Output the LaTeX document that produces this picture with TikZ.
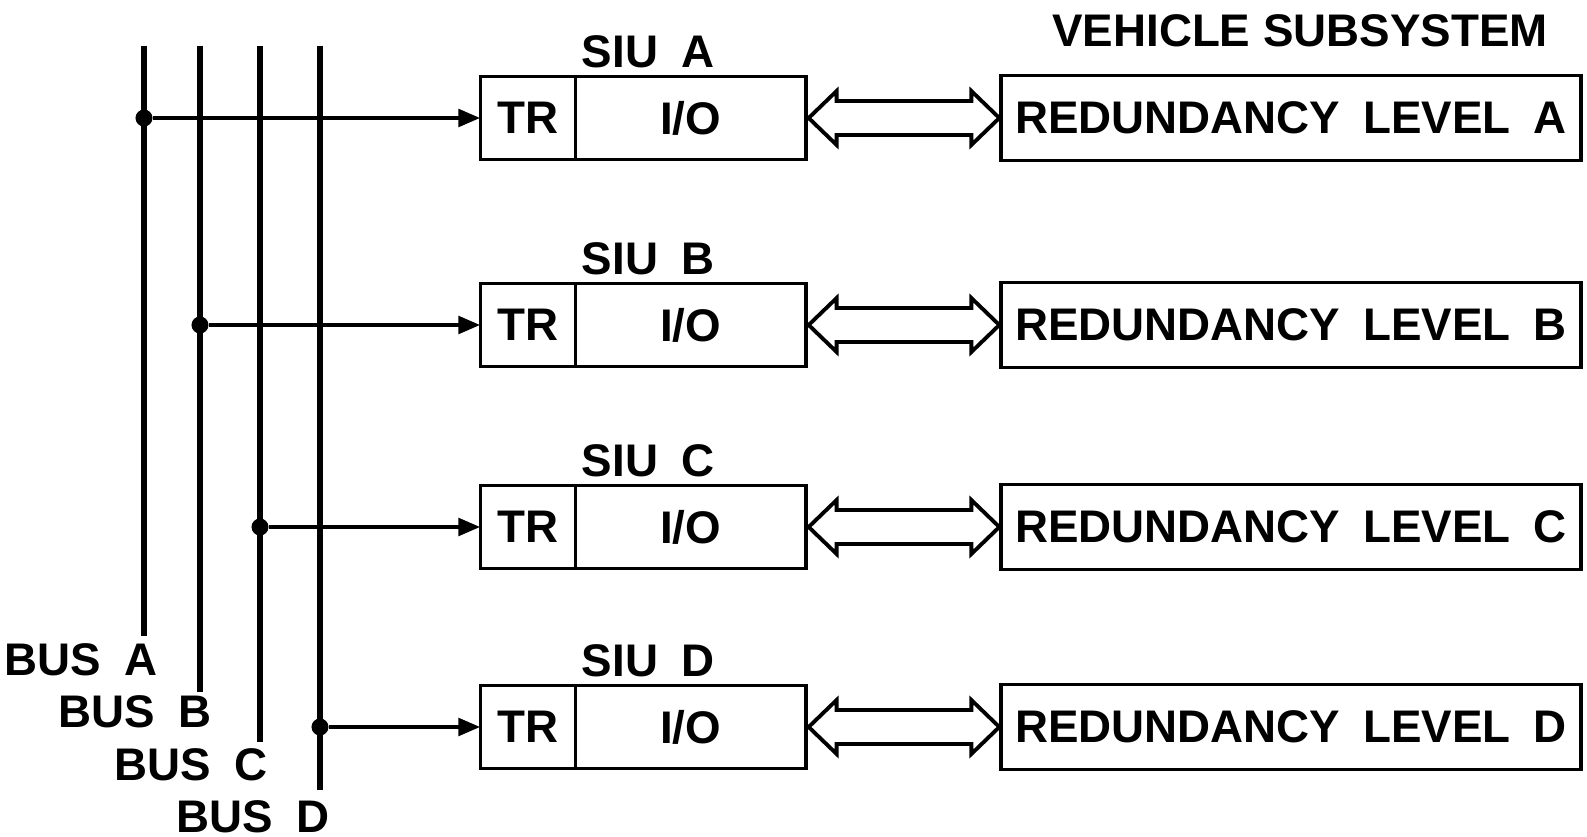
\documentclass[tikz,border=0pt]{standalone}
\usepackage{fontspec}
\setmainfont{Liberation Sans}
\usetikzlibrary{arrows.meta, calc}
\usetikzlibrary{positioning}

\begin{document}
\begin{tikzpicture}[x=0.01cm, y=-0.01cm, font=\fontsize{13}{15}\selectfont\bfseries,
    bus/.style={line width=1.8pt},
    buslabel/.style={anchor=north east, inner sep=0pt},
    tap/.style={line width=1.4pt, -{Triangle[length=0.22cm, width=0.17cm]}},
    tapdot/.style={circle, fill, inner sep=0pt, minimum size=0.17cm},
    trbox/.style={draw, line width=1.1pt, outer sep=0pt, minimum width=0.95cm, minimum height=0.83cm},
    iobox/.style={draw, line width=1.1pt, outer sep=0pt, minimum width=2.3cm, minimum height=0.83cm, anchor=west},
    lvlbox/.style={draw, line width=1.1pt, outer sep=0pt, minimum width=5.79cm, minimum height=0.85cm},
    xfer/.style={draw, line width=1.1pt, line join=miter, fill=white}]
  \useasboundingbox (0,0) rectangle (1587,837);
  % Busse
  \coordinate (busa) at (144,46); \coordinate (busaend) at (144,636);
  \coordinate (busb) at (200,46); \coordinate (busbend) at (200,692);
  \coordinate (busc) at (260,46); \coordinate (buscend) at (260,742);
  \coordinate (busd) at (320,46); \coordinate (busdend) at (320,790);
  \draw[bus] (busa) -- (busaend);
  \draw[bus] (busb) -- (busbend);
  \draw[bus] (busc) -- (buscend);
  \draw[bus] (busd) -- (busdend);
  \node[buslabel] (lbla) at ($(busaend)+(14,7)$) {BUS\enspace A};
  \node[buslabel] (lblb) at ($(busbend)+(12,3)$) {BUS\enspace B};
  \node[buslabel] (lblc) at ($(buscend)+(8,6)$) {BUS\enspace C};
  \node[buslabel] (lbld) at ($(busdend)+(10,10)$) {BUS\enspace D};
  % SIU
  \node[trbox] (tra) at (528,118) {TR}; \node[iobox] (ioa) at (tra.east) {I/O};
  \node[trbox] (trb) at (528,325) {TR}; \node[iobox] (iob) at (trb.east) {I/O};
  \node[trbox] (trc) at (528,527) {TR}; \node[iobox] (ioc) at (trc.east) {I/O};
  \node[trbox] (trd) at (528,727) {TR}; \node[iobox] (iod) at (trd.east) {I/O};
  \node (siua) at (648,52) {SIU\enspace A};
  \node (siub) at (648,259) {SIU\enspace B};
  \node (siuc) at (648,461) {SIU\enspace C};
  \node (siud) at (648,661) {SIU\enspace D};
  % Abgriffe
  \node[tapdot] (ja) at (busa |- tra.west) {};
  \node[tapdot] (jb) at (busb |- trb.west) {};
  \node[tapdot] (jc) at (busc |- trc.west) {};
  \node[tapdot] (jd) at (busd |- trd.west) {};
  \draw[tap] (ja) -- (tra.west);
  \draw[tap] (jb) -- (trb.west);
  \draw[tap] (jc) -- (trc.west);
  \draw[tap] (jd) -- (trd.west);
  % Teilsystem
  \node (vehicle) at (1300,31) {VEHICLE SUBSYSTEM};
  \node[lvlbox] (lvla) at (1291,118) {REDUNDANCY\enspace LEVEL\enspace A};
  \node[lvlbox] (lvlb) at (1291,325) {REDUNDANCY\enspace LEVEL\enspace B};
  \node[lvlbox] (lvlc) at (1291,527) {REDUNDANCY\enspace LEVEL\enspace C};
  \node[lvlbox] (lvld) at (1291,727) {REDUNDANCY\enspace LEVEL\enspace D};
  \draw[xfer] ($(ioa.east)+(3,0)$) -- ++(28,-27) -- ++(0,10) -- ($(lvla.west)+(-30,-17)$) -- ++(0,-10) -- ($(lvla.west)+(-2,0)$) -- ++(-28,27) -- ++(0,-10) -- ($(ioa.east)+(31,17)$) -- ++(0,10) -- cycle;
  \draw[xfer] ($(iob.east)+(3,0)$) -- ++(28,-27) -- ++(0,10) -- ($(lvlb.west)+(-30,-17)$) -- ++(0,-10) -- ($(lvlb.west)+(-2,0)$) -- ++(-28,27) -- ++(0,-10) -- ($(iob.east)+(31,17)$) -- ++(0,10) -- cycle;
  \draw[xfer] ($(ioc.east)+(3,0)$) -- ++(28,-27) -- ++(0,10) -- ($(lvlc.west)+(-30,-17)$) -- ++(0,-10) -- ($(lvlc.west)+(-2,0)$) -- ++(-28,27) -- ++(0,-10) -- ($(ioc.east)+(31,17)$) -- ++(0,10) -- cycle;
  \draw[xfer] ($(iod.east)+(3,0)$) -- ++(28,-27) -- ++(0,10) -- ($(lvld.west)+(-30,-17)$) -- ++(0,-10) -- ($(lvld.west)+(-2,0)$) -- ++(-28,27) -- ++(0,-10) -- ($(iod.east)+(31,17)$) -- ++(0,10) -- cycle;
\end{tikzpicture}
\end{document}
